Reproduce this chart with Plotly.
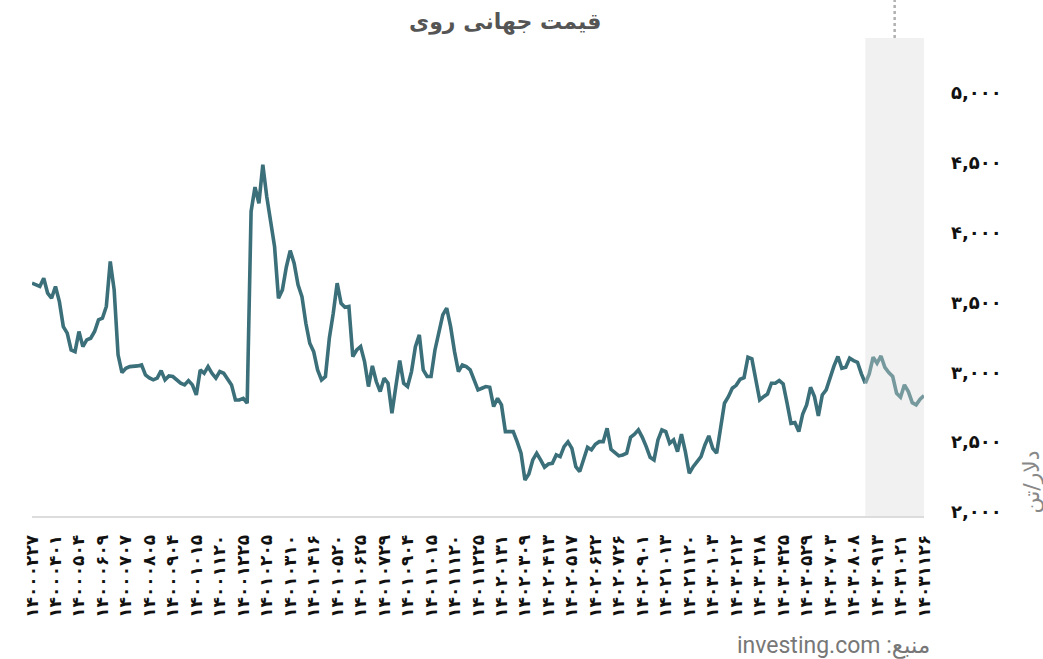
import plotly.graph_objects as go

# Persian calendar dates shown under the x axis (one every six samples)
date_labels = [
    "14000227", "14000401", "14000504", "14000609", "14000707", "14000805",
    "14000904", "14001015", "14001120", "14001225", "14010205", "14010310",
    "14010416", "14010520", "14010625", "14010729", "14010904", "14011015",
    "14011120", "14011225", "14020131", "14020309", "14020413", "14020517",
    "14020622", "14020726", "14020901", "14021013", "14021120", "14030103",
    "14030212", "14030318", "14030425", "14030529", "14030703", "14030808",
    "14030913", "14031021", "14031126",
]

# Zinc price, USD per tonne
prices = [
    3666, 3654, 3642, 3701, 3594, 3558, 3642, 3534, 3355, 3308,
    3188, 3176, 3320, 3212, 3260, 3272, 3320, 3403, 3415, 3499,
    3821, 3618, 3153, 3026, 3057, 3069, 3069, 3074, 3081, 3009,
    2988, 2974, 2986, 3040, 2974, 3002, 2998, 2974, 2950, 2938,
    2969, 2938, 2866, 3045, 3021, 3069,
    3021, 2986, 3033, 3021, 2974, 2938, 2830, 2830, 2842, 2807,
    4179, 4353, 4238, 4513, 4286, 4107, 3928, 3558, 3618, 3780,
    3899, 3809, 3654, 3570, 3379, 3236, 3176, 3045, 2974, 2998,
    3272, 3451, 3666, 3522, 3494, 3499, 3141, 3188, 3212, 3105,
    2926, 3074, 2962, 2890, 2986, 2950,
    2735, 2926, 3112, 2950, 2926, 3033, 3212, 3296, 3045, 2998,
    2998, 3188, 3308, 3439, 3487, 3355, 3176, 3033, 3081, 3069,
    3045, 2974, 2902, 2914, 2926, 2921, 2783, 2842, 2795, 2604,
    2604, 2604, 2532, 2449, 2258, 2301, 2401, 2449, 2401, 2349,
    2372, 2377, 2437, 2425, 2496, 2530,
    2484, 2353, 2318, 2413, 2492, 2473, 2513, 2532, 2532, 2628,
    2477, 2454, 2430, 2437, 2449, 2563, 2585, 2616, 2563, 2496,
    2420, 2401, 2544, 2616, 2604, 2520, 2544, 2461, 2585, 2461,
    2306, 2353, 2391, 2425, 2508, 2573, 2484, 2449, 2628, 2807,
    2854, 2914, 2935, 2978, 2990, 3136,
    3124, 2986, 2830, 2854, 2873, 2950, 2950, 2969, 2945, 2807,
    2663, 2668, 2604, 2730, 2795, 2921, 2854, 2716, 2866, 2902,
    2998, 3074, 3141, 3057, 3064, 3129, 3112, 3100, 3017, 2950,
    3017, 3136, 3093, 3145, 3064, 3026, 2998, 2878, 2850, 2938,
    2890, 2811, 2795, 2835, 2861,
]

y_ticks = [2000, 2500, 3000, 3500, 4000, 4500, 5000]
label_step = 6          # samples between two date labels
recent_start = 213      # first sample of the highlighted recent period

FA_DIGITS = str.maketrans("0123456789", "۰۱۲۳۴۵۶۷۸۹")


def fa(text):
    return str(text).translate(FA_DIGITS)


x = list(range(len(prices)))
last = len(prices) - 1

FONT = "DejaVu Sans"
DARK = "#3b6f79"
LIGHT = "#76999e"

fig = go.Figure()

fig.add_trace(go.Scatter(
    x=x[:recent_start + 1], y=prices[:recent_start + 1],
    mode="lines", line=dict(color=DARK, width=3.6),
    hoverinfo="skip", showlegend=False,
))
fig.add_trace(go.Scatter(
    x=x[recent_start:], y=prices[recent_start:],
    mode="lines", line=dict(color=LIGHT, width=3.6),
    hoverinfo="skip", showlegend=False,
))

# grey band over the recent period, with a dotted marker above it
fig.add_shape(type="rect", xref="x", yref="paper",
              x0=recent_start, x1=last, y0=0, y1=1,
              fillcolor="#f1f1f1", line_width=0, layer="below")
fig.add_shape(type="line", xref="x", yref="paper",
              x0=(recent_start + last) / 2, x1=(recent_start + last) / 2,
              y0=1.0, y1=1.08,
              line=dict(color="#b0b0b0", width=2.5, dash="dot"))

fig.update_xaxes(
    range=[0, last],
    tickmode="array",
    tickvals=[k * label_step for k in range(len(date_labels))],
    ticktext=[fa(d) for d in date_labels],
    tickangle=-90,
    tickfont=dict(family=FONT, size=17, color="#111", weight="bold"),
    ticklabelstandoff=10,
    showgrid=False, zeroline=False,
    showline=True, linecolor="#dcdcdc", linewidth=2,
    ticks="",
)
fig.update_yaxes(
    side="right",
    range=[2000, 5420],
    tickmode="array",
    tickvals=y_ticks,
    ticktext=[fa(f"{v:,}") for v in y_ticks],
    tickfont=dict(family=FONT, size=18, color="#111", weight="bold"),
    ticklabelstandoff=26,
    ticklabelshift=-4,
    showgrid=False, zeroline=False, showline=False, ticks="",
)

fig.add_annotation(
    text="قیمت جهانی روی", xref="paper", yref="paper",
    x=0.53, y=1.034, xanchor="center", yanchor="middle", showarrow=False,
    font=dict(family=FONT, size=22, color="#555", weight="bold"),
)
fig.add_annotation(
    text="دلار/تن", xref="paper", yref="paper",
    x=1.12, y=0.07, xanchor="center", yanchor="middle", showarrow=False,
    textangle=-90, font=dict(family=FONT, size=22, color="#888"),
)
fig.add_annotation(
    text="\u202bمنبع: investing.com\u202c", xref="paper", yref="paper",
    x=1.0085, y=-0.27, xanchor="right", yanchor="middle", showarrow=False,
    font=dict(family="Roboto, DejaVu Sans", size=23, color="#777"),
)

fig.update_layout(
    width=1043, height=659,
    margin=dict(l=32, r=119, t=38, b=143),
    paper_bgcolor="white", plot_bgcolor="white",
    showlegend=False,
)

fig.write_html("out.html")
